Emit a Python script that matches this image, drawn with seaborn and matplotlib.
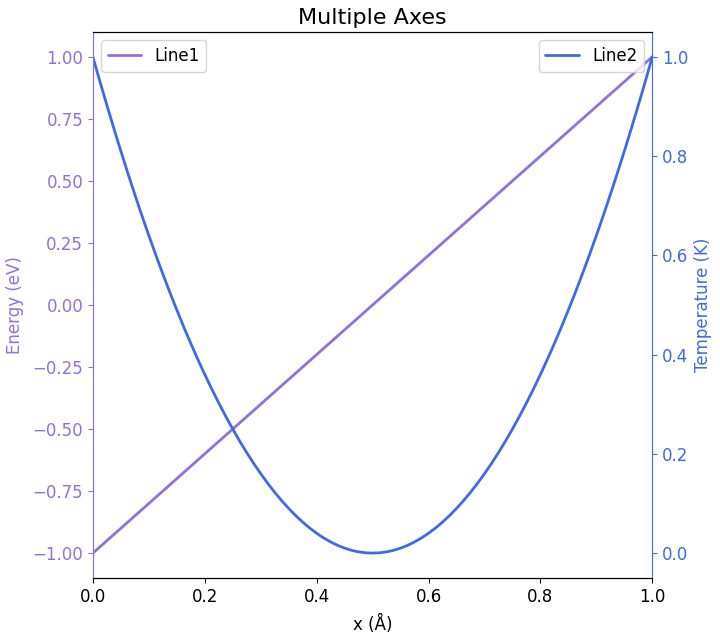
import pandas as pd
import matplotlib
matplotlib.use('Agg')
import matplotlib.pyplot as plt
import seaborn as sns

# 数据
# Line1：直线
x_line1 = [0.0, 0.25, 0.5, 0.75, 1.0]
energy = [-1.0, -0.5, 0.0, 0.5, 1.0]

# Line2：抛物线
x_line2 = [0.0, 0.0125, 0.025, 0.0375, 0.05, 0.0625, 0.075, 0.0875, 0.1, 0.1125,
           0.125, 0.1375, 0.15, 0.1625, 0.175, 0.1875, 0.2, 0.2125, 0.225, 0.2375,
           0.25, 0.2625, 0.275, 0.2875, 0.3, 0.3125, 0.325, 0.3375, 0.35, 0.3625,
           0.375, 0.3875, 0.4, 0.4125, 0.425, 0.4375, 0.45, 0.4625, 0.475, 0.4875,
           0.5, 0.5125, 0.525, 0.5375, 0.55, 0.5625, 0.575, 0.5875, 0.6, 0.6125,
           0.625, 0.6375, 0.65, 0.6625, 0.675, 0.6875, 0.7, 0.7125, 0.725, 0.7375,
           0.75, 0.7625, 0.775, 0.7875, 0.8, 0.8125, 0.825, 0.8375, 0.85, 0.8625,
           0.875, 0.8875, 0.9, 0.9125, 0.925, 0.9375, 0.95, 0.9625, 0.975, 0.9875,
           1.0]
temperature = [1.0, 0.9506, 0.9025, 0.8556, 0.81, 0.7656, 0.7225, 0.6806, 0.64, 0.6006,
               0.5625, 0.5256, 0.49, 0.4556, 0.4225, 0.3906, 0.36, 0.3306, 0.3025, 0.2756,
               0.25, 0.2256, 0.2025, 0.1806, 0.16, 0.1406, 0.1225, 0.1056, 0.09, 0.0756,
               0.0625, 0.0506, 0.04, 0.0306, 0.0225, 0.0156, 0.01, 0.0056, 0.0025, 0.0006,
               0.0, 0.0006, 0.0025, 0.0056, 0.01, 0.0156, 0.0225, 0.0306, 0.04, 0.0506,
               0.0625, 0.0756, 0.09, 0.1056, 0.1225, 0.1406, 0.16, 0.1806, 0.2025, 0.2256,
               0.25, 0.2756, 0.3025, 0.3306, 0.36, 0.3906, 0.4225, 0.4556, 0.49, 0.5256,
               0.5625, 0.6006, 0.64, 0.6806, 0.7225, 0.7656, 0.81, 0.8556, 0.9025, 0.9506,
               1.0]

df1 = pd.DataFrame({'x': x_line1, 'energy': energy})
df2 = pd.DataFrame({'x': x_line2, 'temperature': temperature})

c1 = 'mediumpurple'
c2 = 'royalblue'

sns.set_style('ticks')
plt.rcParams['font.family'] = ['DejaVu Sans']
plt.rcParams['text.color'] = 'black'
plt.rcParams['axes.labelcolor'] = 'black'
plt.rcParams['axes.edgecolor'] = 'black'
plt.rcParams['xtick.color'] = 'black'
plt.rcParams['ytick.color'] = 'black'

fig, ax1 = plt.subplots(figsize=(7.2, 6.4), dpi=100)
fig.subplots_adjust(left=0.129, right=0.906, top=0.95, bottom=0.097)

sns.lineplot(data=df1, x='x', y='energy', ax=ax1, color=c1, linewidth=2, label='Line1')
ax2 = ax1.twinx()
sns.lineplot(data=df2, x='x', y='temperature', ax=ax2, color=c2, linewidth=2, label='Line2')

ax1.set_xlim(0, 1)
ax1.set_title('Multiple Axes', fontsize=16, color='black')
ax1.set_xlabel('x (Å)', fontsize=12, labelpad=7)
ax1.set_ylabel('Energy (eV)', fontsize=12, color=c1, labelpad=6)
ax2.set_ylabel('Temperature (K)', fontsize=12, color=c2)

ax1.tick_params(axis='x', labelsize=12, colors='black')
ax1.tick_params(axis='y', colors=c1, labelsize=12)
ax2.tick_params(axis='y', colors=c2, labelsize=12)

ax1.spines['left'].set_color(c1)
ax2.spines['left'].set_color(c1)
ax2.spines['right'].set_color(c2)
ax1.spines['right'].set_visible(False)

leg1 = ax1.legend(loc='upper left', fontsize=12)
leg2 = ax2.legend(loc='upper right', fontsize=12)
for t in leg1.get_texts() + leg2.get_texts():
    t.set_color('black')

fig.savefig('out.png', dpi=100)
